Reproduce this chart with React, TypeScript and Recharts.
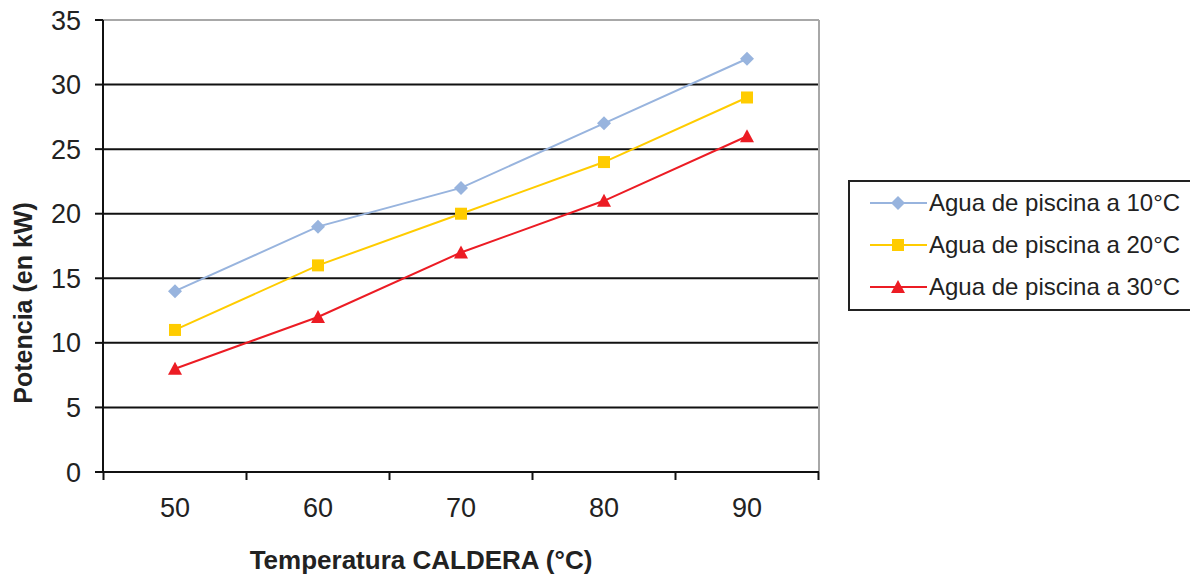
import React from 'react';
import { LineChart, Line, XAxis, YAxis, CartesianGrid, Label } from 'recharts';

const categories = ['50', '60', '70', '80', '90'];
const seriesNames = ['Agua de piscina a 10°C', 'Agua de piscina a 20°C', 'Agua de piscina a 30°C'];
const agua10 = [14, 19, 22, 27, 32];
const agua20 = [11, 16, 20, 24, 29];
const agua30 = [8, 12, 17, 21, 26];
const yTicks = [0, 5, 10, 15, 20, 25, 30, 35];

const colors = ['#98B4DE', '#FFCC00', '#EC1C24'];
const shapes = ['diamond', 'square', 'triangle'];
const keys = ['s10', 's20', 's30'];

const data = categories.map((c, i) => ({ temp: c, s10: agua10[i], s20: agua20[i], s30: agua30[i] }));

const FONT = '"Liberation Sans", Arial, Helvetica, sans-serif';
const TICK_SIZE = 27;
const PAD = 72;
const PLOT_W = 716;
const HALF_STEP = (PLOT_W - 2 * PAD) / (categories.length - 1) / 2;

function Marker({ shape, cx, cy, color }: any) {
  if (cx == null || cy == null) return null;
  if (shape === 'diamond') {
    return <polygon points={`${cx},${cy - 7} ${cx + 7},${cy} ${cx},${cy + 7} ${cx - 7},${cy}`} fill={color} />;
  }
  if (shape === 'square') {
    return <rect x={cx - 6} y={cy - 6} width={12} height={12} fill={color} />;
  }
  return <polygon points={`${cx},${cy - 7} ${cx + 7},${cy + 6} ${cx - 7},${cy + 6}`} fill={color} />;
}

const XTick = (props: any) => {
  const { x, y, payload, index } = props;
  const axisY = y - 8 - 18;
  const last = index === categories.length - 1;
  return (
    <g>
      <line x1={x - HALF_STEP} x2={x - HALF_STEP} y1={axisY} y2={axisY + 8} stroke="#111" strokeWidth={2} />
      {last && <line x1={x + HALF_STEP} x2={x + HALF_STEP} y1={axisY} y2={axisY + 8} stroke="#111" strokeWidth={2} />}
      <text x={x} y={y} dy="0.71em" textAnchor="middle" fill="#222" fontSize={TICK_SIZE} fontFamily={FONT}>
        {payload.value}
      </text>
    </g>
  );
};

const HLine = (p: any) => {
  const top = Math.abs(p.y1 - p.y) < 1;
  return <line key={p.key} x1={p.x1} x2={p.x2} y1={p.y1} y2={p.y2} stroke={top ? '#a8a8a8' : '#111'} strokeWidth={2} />;
};
const VLine = (p: any) => (
  <line key={p.key} x1={p.x1} x2={p.x2} y1={p.y1} y2={p.y2} stroke="#a8a8a8" strokeWidth={2} />
);

const LegendBox = () => (
  <div
    style={{
      position: 'absolute',
      left: 848,
      top: 180,
      border: '2px solid #222',
      width: 360,
      height: 131,
      boxSizing: 'border-box',
      background: '#fff',
    }}
  >
    {seriesNames.map((name, k) => (
      <div key={k} style={{ height: 42, display: 'flex', alignItems: 'center' }}>
        <svg width={58} height={20} style={{ marginLeft: 20 }}>
          <line x1={0} x2={57} y1={10} y2={10} stroke={colors[k]} strokeWidth={2} />
          <Marker shape={shapes[k]} cx={28} cy={10} color={colors[k]} />
        </svg>
        <span style={{ marginLeft: 1, fontSize: 24, color: '#222', fontFamily: FONT, whiteSpace: 'nowrap' }}>{name}</span>
      </div>
    ))}
  </div>
);

export default function App() {
  return (
    <div style={{ position: 'absolute', left: 0, top: 0, width: 1190, height: 579, overflow: 'hidden', background: '#fff', fontFamily: FONT }}>
      <LineChart width={1190} height={579} data={data} margin={{ top: 20, right: 371, bottom: 47, left: 0 }}>
        <CartesianGrid
          horizontal={HLine}
          vertical={VLine}
          verticalCoordinatesGenerator={({ offset }: any) => [offset.left + offset.width]}
        />
        <XAxis
          dataKey="temp"
          height={60}
          padding={{ left: PAD, right: PAD }}
          axisLine={{ stroke: '#111', strokeWidth: 2 }}
          tickLine={false}
          tickSize={8}
          tickMargin={18}
          tick={XTick}
          interval={0}
        >
          <Label
            content={(p: any) => {
              const vb = p.viewBox;
              return (
                <text x={vb.x + vb.width / 2 - 40} y={vb.y + 97} textAnchor="middle" fontSize={26} fontWeight="bold" fill="#222" fontFamily={FONT}>
                  Temperatura CALDERA (°C)
                </text>
              );
            }}
          />
        </XAxis>
        <YAxis
          width={103}
          domain={[0, 35]}
          ticks={yTicks}
          interval={0}
          axisLine={{ stroke: '#111', strokeWidth: 2 }}
          tickLine={{ stroke: '#111', strokeWidth: 2 }}
          tickSize={8}
          tickMargin={14}
          tick={{ fill: '#222', fontSize: TICK_SIZE, fontFamily: FONT }}
        >
          <Label
            content={(p: any) => {
              const vb = p.viewBox;
              const cx = 32;
              const cy = vb.y + vb.height / 2 + 57;
              return (
                <text x={cx} y={cy} transform={`rotate(-90, ${cx}, ${cy})`} textAnchor="middle" fontSize={25} fontWeight="bold" fill="#222" fontFamily={FONT}>
                  Potencia (en kW)
                </text>
              );
            }}
          />
        </YAxis>
        {keys.map((k, i) => (
          <Line
            key={k}
            type="linear"
            dataKey={k}
            name={seriesNames[i]}
            stroke={colors[i]}
            strokeWidth={2}
            isAnimationActive={false}
            dot={(p: any) => <Marker key={p.index} shape={shapes[i]} cx={p.cx} cy={p.cy} color={colors[i]} />}
            activeDot={false}
          />
        ))}
      </LineChart>
      <LegendBox />
    </div>
  );
}
